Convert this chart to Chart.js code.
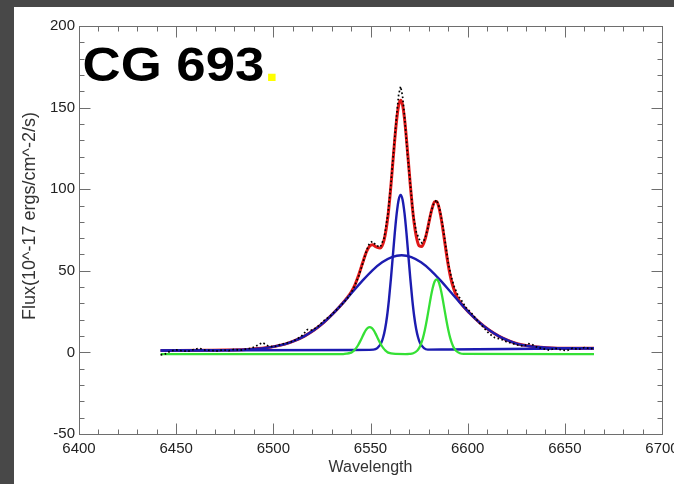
<!DOCTYPE html>
<html>
<head>
<meta charset="UTF-8" />
<script src="https://cdn.jsdelivr.net/npm/chart.js"></script>
<style>
  html, body { margin: 0; padding: 0; background: #484848; }
  #frame { position: absolute; left: 14px; top: 7px; width: 660px; height: 477px; background: #fff; }
  #spec { display: block; }
</style>
</head>
<body>
<div id="frame"><canvas id="spec" width="660" height="477"></canvas></div>
<script>
// Observed spectrum (dotted)
const dataWave = [6442, 6444, 6447, 6450, 6453, 6456, 6459, 6462, 6465, 6468, 6471, 6474, 6477, 6480, 6483, 6486, 6489, 6492, 6494.5, 6497,
  6500, 6503, 6506, 6509, 6512, 6515, 6517.5, 6520, 6523, 6526, 6529, 6532, 6535, 6538, 6540, 6542, 6544, 6546, 6548, 6549.5,
  6551, 6553, 6555, 6557, 6559, 6560.5, 6562, 6563.5, 6564.5, 6565.5, 6566.5, 6567.5, 6569, 6570.5, 6572, 6573.5, 6575, 6576.5, 6578, 6579.5,
  6581, 6582.5, 6584, 6585.5, 6587, 6588.5, 6590, 6591.5, 6593, 6595, 6597, 6599, 6602, 6605, 6608, 6611, 6614, 6617, 6620, 6623,
  6626, 6629, 6631, 6633, 6636, 6639, 6642, 6645, 6648, 6651, 6654, 6657, 6660, 6663, 6665];
const dataFlux = [-1.5, -1.2, 0.8, 1.5, 1.0, 0.6, 1.8, 2.5, 1.4, 1.2, 0.9, 1.6, 1.1, 1.9, 1.4, 2.0, 2.6, 4.5, 6.0, 4.2,
  3.3, 4.6, 5.5, 6.4, 8.0, 10.5, 14.0, 13.6, 16.0, 19.5, 22.0, 25.5, 29.0, 33.0, 36.5, 41.0, 47.0, 54.5, 62.5, 67.0,
  68.0, 65.5, 64.5, 70.0, 85.0, 103.0, 125.0, 146.0, 158.0, 163.0, 157.0, 145.0, 122.0, 103.0, 84.0, 74.0, 69.5, 67.0, 69.5, 76.0,
  85.5, 91.0, 93.5, 88.5, 79.0, 67.0, 55.0, 46.5, 40.5, 35.0, 31.5, 27.6, 24.0, 19.5, 15.5, 11.5, 9.0, 8.2, 6.5, 5.5,
  4.4, 3.8, 5.5, 5.0, 3.0, 2.2, 1.4, 2.5, 1.6, 1.1, 2.6, 1.8, 3.0, 2.3, 2.6];

// Total fit (red)
const fitWave = [6442, 6466, 6476, 6486, 6496, 6506, 6511, 6516, 6521, 6526, 6531, 6536, 6538, 6540, 6542, 6544, 6546, 6548, 6549.6, 6551,
  6553, 6555, 6557, 6559, 6560.5, 6561.5, 6562.5, 6563.5, 6564.5, 6565.5, 6566.5, 6567.5, 6568.5, 6569.5, 6570.5, 6571.5, 6572.5, 6573.5, 6575, 6576.5,
  6578, 6579, 6580, 6581, 6582, 6583, 6584, 6585, 6586, 6587, 6588, 6589, 6590, 6591, 6592, 6594, 6596, 6601, 6606, 6611,
  6616, 6621, 6626, 6636, 6646, 6656, 6665];
const fitFlux = [1.2, 1.3, 1.4, 1.8, 2.8, 5.1, 7.2, 10.0, 13.7, 18.4, 24.1, 30.6, 33.5, 36.9, 41.4, 47.7, 55.1, 61.9, 65.2, 65.9,
  64.6, 63.9, 68.9, 83.7, 102.1, 116.4, 130.7, 143.0, 151.5, 154.5, 151.6, 143.2, 130.9, 116.7, 102.3, 89.5, 78.9, 71.4, 65.3, 64.9,
  69.0, 73.7, 79.3, 84.9, 89.5, 92.3, 92.5, 89.8, 84.5, 77.4, 69.3, 61.1, 53.6, 47.2, 42.2, 35.2, 31.0, 24.1, 18.4, 13.7,
  10.0, 7.2, 5.1, 3.3, 2.6, 2.5, 2.5];

// Broad H-alpha component (blue)
const broadWave = [6442, 6466, 6476, 6486, 6496, 6506, 6511, 6516, 6521, 6526, 6531, 6536, 6541, 6546, 6551, 6556, 6561, 6566, 6571, 6576,
  6581, 6586, 6591, 6596, 6601, 6606, 6611, 6616, 6621, 6626, 6636, 6646, 6656, 6665];
const broadFlux = [1.2, 1.3, 1.4, 1.8, 2.8, 5.1, 7.2, 10.0, 13.7, 18.4, 24.1, 30.5, 37.3, 44.1, 50.3, 55.2, 58.4, 59.5, 58.4, 55.2,
  50.3, 44.1, 37.3, 30.5, 24.1, 18.4, 13.7, 10.0, 7.2, 5.1, 3.3, 2.6, 2.5, 2.5];

// Narrow H-alpha component (blue)
const narrowWave = [6442, 6540, 6551.5, 6553.5, 6555.5, 6556.5, 6557.5, 6558.5, 6559.5, 6560.5, 6561.5, 6562.5, 6563.5, 6564.5, 6565.5,
  6566.5, 6567.5, 6568.5, 6569.5, 6570.5, 6571.5, 6572.5, 6573.5, 6574.5, 6575.5, 6577.5, 6579.5, 6590, 6665];
const narrowFlux = [1.2, 1.5, 1.7, 2.6, 5.7, 9.1, 14.3, 22.0, 32.4, 45.0, 59.1, 73.2, 85.3, 93.6, 96.5,
  93.6, 85.3, 73.2, 59.1, 45.0, 32.4, 22.0, 14.3, 9.1, 5.7, 2.6, 1.7, 1.8, 2.5];

// [NII] 6548/6583 doublet (green)
const niiWave = [6442, 6536, 6537.6, 6539.6, 6540.6, 6541.6, 6542.6, 6543.6, 6544.6, 6545.6, 6546.6, 6547.6, 6548.6, 6549.6, 6550.6,
  6551.6, 6552.6, 6553.6, 6554.6, 6555.6, 6556.6, 6557.6, 6558.6, 6559.6, 6561.6, 6568, 6570, 6572, 6574, 6575,
  6576, 6577, 6578, 6579, 6580, 6581, 6582, 6583, 6584, 6585, 6586, 6587, 6588, 6589, 6590,
  6591, 6592, 6593, 6594, 6596, 6598, 6665];
const niiFlux = [-1, -1, -0.8, -0.3, 0.3, 1.2, 2.6, 4.4, 6.6, 9.0, 11.5, 13.6, 15.0, 15.5, 15.0,
  13.6, 11.5, 9.0, 6.6, 4.4, 2.6, 1.2, 0.3, -0.3, -0.8, -1, -0.9, -0.5, 1.0, 2.6,
  5.2, 8.9, 13.9, 20.0, 26.8, 33.6, 39.4, 43.4, 44.8, 43.4, 39.4, 33.6, 26.8, 20.0, 13.9,
  8.9, 5.2, 2.6, 1.0, -0.5, -0.9, -1];

const xRange = [6400, 6700];
const yRange = [-50, 200];
const majorStep = 50;
const minorStep = 10;

const FONT = '"Liberation Sans", Arial, Helvetica, sans-serif';

function pts(xs, ys) {
  return xs.map((x, i) => ({ x: x, y: ys[i] }));
}

// IDL-style box with inward ticks on all four sides, plus labels
const idlFrame = {
  id: 'idlFrame',
  afterDraw(chart) {
    const { ctx, chartArea: a, scales: { x, y } } = chart;
    ctx.save();
    ctx.strokeStyle = '#6e6e6e';
    ctx.lineWidth = 1;
    const L = Math.round(a.left) + 0.5, R = Math.round(a.right) + 0.5;
    const T = Math.round(a.top) + 0.5, B = Math.round(a.bottom) + 0.5;
    ctx.strokeRect(L, T, R - L, B - T);
    ctx.beginPath();
    for (let v = xRange[0] + minorStep; v < xRange[1]; v += minorStep) {
      const px = Math.round(x.getPixelForValue(v)) + 0.5;
      const len = v % majorStep === 0 ? 11 : 5;
      ctx.moveTo(px, B); ctx.lineTo(px, B - len);
      ctx.moveTo(px, T); ctx.lineTo(px, T + len);
    }
    for (let v = yRange[0] + minorStep; v < yRange[1]; v += minorStep) {
      const py = Math.round(y.getPixelForValue(v)) + 0.5;
      const len = v % majorStep === 0 ? 11 : 5;
      ctx.moveTo(L, py); ctx.lineTo(L + len, py);
      ctx.moveTo(R, py); ctx.lineTo(R - len, py);
    }
    ctx.stroke();

    // y axis title
    ctx.fillStyle = '#333';
    ctx.font = '18px ' + FONT;
    ctx.textAlign = 'center';
    ctx.textBaseline = 'middle';
    ctx.translate(16, 209);
    ctx.rotate(-Math.PI / 2);
    ctx.fillText('Flux(10^-17 ergs/cm^-2/s)', 0, 0);
    ctx.restore();

    // object name
    ctx.save();
    ctx.translate(68.5, 73.5);
    ctx.scale(1.1, 1);
    ctx.font = 'bold 48px ' + FONT;
    ctx.textAlign = 'left';
    ctx.textBaseline = 'alphabetic';
    ctx.fillStyle = '#000';
    ctx.fillText('CG 693', 0, 0);
    const w = ctx.measureText('CG 693').width;
    ctx.fillStyle = '#ffff00';
    ctx.fillText('.', w, 0);
    ctx.restore();
  }
};

new Chart(document.getElementById('spec'), {
  type: 'scatter',
  data: {
    datasets: [
      {
        label: 'data', data: pts(dataWave, dataFlux), showLine: true,
        borderColor: '#000', borderWidth: 1.7, borderDash: [1.7, 2.4],
        pointRadius: 0, tension: 0, order: 0
      },
      {
        label: 'nii', data: pts(niiWave, niiFlux), showLine: true,
        borderColor: '#35e035', borderWidth: 2.3, pointRadius: 0,
        cubicInterpolationMode: 'monotone', order: 1
      },
      {
        label: 'narrow', data: pts(narrowWave, narrowFlux), showLine: true,
        borderColor: '#1c1cb0', borderWidth: 2.4, pointRadius: 0,
        cubicInterpolationMode: 'monotone', order: 2
      },
      {
        label: 'broad', data: pts(broadWave, broadFlux), showLine: true,
        borderColor: '#1c1cb0', borderWidth: 2.4, pointRadius: 0,
        cubicInterpolationMode: 'monotone', order: 3
      },
      {
        label: 'fit', data: pts(fitWave, fitFlux), showLine: true,
        borderColor: '#e01818', borderWidth: 3, pointRadius: 0,
        cubicInterpolationMode: 'monotone', order: 4
      }
    ]
  },
  options: {
    responsive: false,
    animation: false,
    layout: { padding: { top: 19, right: 12, left: 0, bottom: 0 } },
    plugins: { legend: { display: false }, tooltip: { enabled: false } },
    scales: {
      x: {
        type: 'linear', min: xRange[0], max: xRange[1],
        grid: { display: false, drawTicks: false },
        border: { display: false },
        ticks: { stepSize: majorStep, autoSkip: false, maxRotation: 0, padding: 6, color: '#222',
          font: { family: FONT, size: 15 }, callback: v => String(v) },
        title: { display: true, text: 'Wavelength', color: '#333', padding: { top: 0, bottom: 7 },
          font: { family: FONT, size: 16 } },
        afterFit(s) { s.height = 50; s.paddingLeft = 0; s.paddingRight = 0; }
      },
      y: {
        type: 'linear', min: yRange[0], max: yRange[1],
        grid: { display: false, drawTicks: false },
        border: { display: false },
        ticks: { stepSize: majorStep, padding: 4, color: '#222',
          font: { family: FONT, size: 15 } },
        afterFit(s) { s.width = 65; s.paddingTop = 0; s.paddingBottom = 0; }
      }
    }
  },
  plugins: [idlFrame]
});
</script>
</body>
</html>
